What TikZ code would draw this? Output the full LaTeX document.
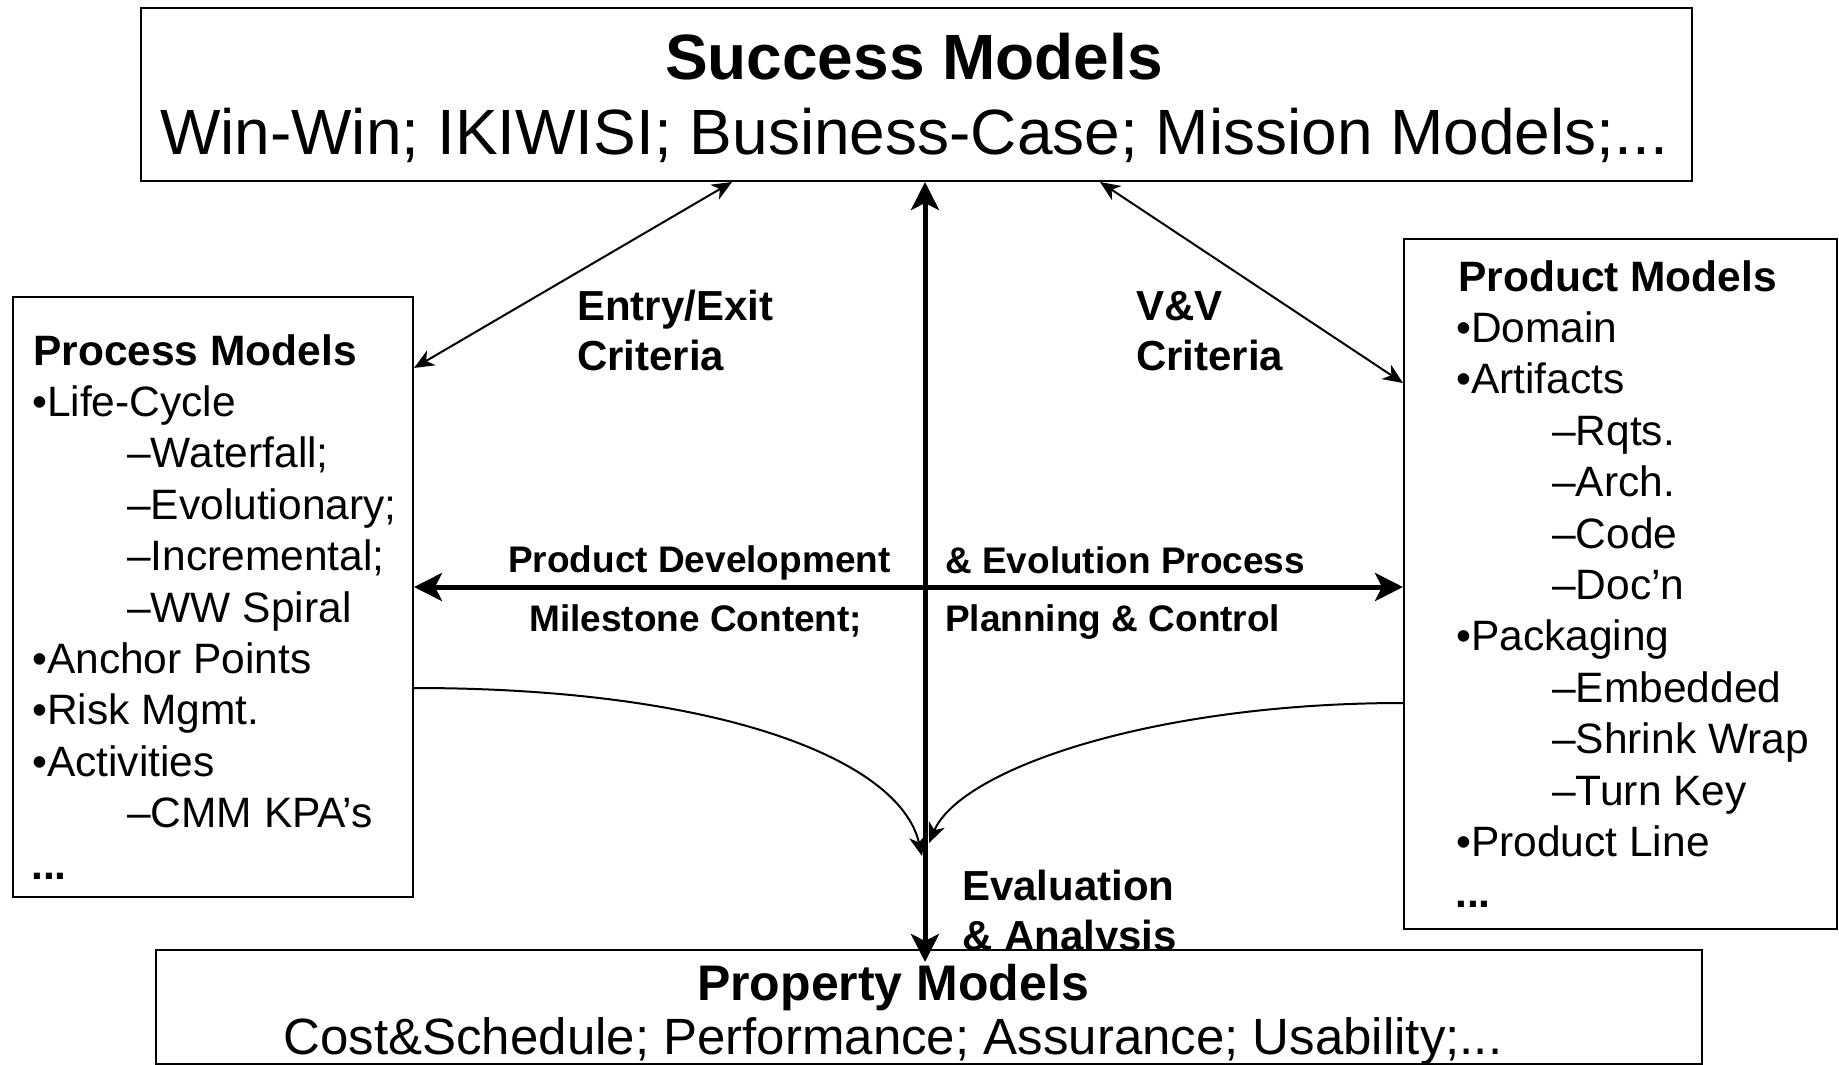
\documentclass[tikz,border=0pt]{standalone}
\usepackage{fontspec}
\setmainfont{Liberation Sans}
\usetikzlibrary{arrows.meta}
\newcommand\setfs[1]{\fontsize{#1}{#1}\selectfont}
\begin{document}
\begin{tikzpicture}[x=1pt,y=-1pt,
  box/.style={draw,line width=2pt,fill=white,inner sep=0pt},
  txt/.style={inner sep=0pt,anchor=base west,font=\setfs{42.5}},
  btxt/.style={inner sep=0pt,anchor=base west,font=\setfs{42.5}\bfseries},
  lbl/.style={inner sep=0pt,anchor=base west,font=\setfs{37}\bfseries},
  thintip/.tip={Stealth[length=20pt,width=17pt,inset=6pt]},
  thicktip/.tip={Stealth[length=28pt,width=28pt,inset=7pt]},
  thinarr/.style={line width=2pt,thintip-thintip},
  curvearr/.style={line width=2pt,-thintip},
  thickarr/.style={line width=5pt,thicktip-thicktip}]
\useasboundingbox (0,0) rectangle (1839,1065);

% Success Models
\node[box,minimum width=1551pt,minimum height=173pt] (success) at (916.5,94.5) {};
\node[inner sep=0pt,anchor=base,font=\setfs{64}\bfseries] (st) at (914,79) {Success Models};
\node[inner sep=0pt,anchor=base,font=\setfs{64}] (ss) at (914,154) {Win-Win; IKIWISI; Business-Case; Mission Models;...};

% Process Models
\node[box,minimum width=400pt,minimum height=600pt] (process) at (213,597) {};
\node[btxt] (p0) at (33,365) {Process Models};
\node[txt] (p1) at (32,416.4) {•Life-Cycle};
\node[txt] (p2) at (127,467.8) {–Waterfall;};
\node[txt] (p3) at (127,519.2) {–Evolutionary;};
\node[txt] (p4) at (127,570.6) {–Incremental;};
\node[txt] (p5) at (127,622) {–WW Spiral};
\node[txt] (p6) at (32,673.4) {•Anchor Points};
\node[txt] (p7) at (32,724.8) {•Risk Mgmt.};
\node[txt] (p8) at (32,776.2) {•Activities};
\node[txt] (p9) at (127,827.6) {–CMM KPA’s};
\node[btxt] (p10) at (31,879) {...};

% Product Models
\node[box,minimum width=433pt,minimum height=690pt] (product) at (1620.5,584) {};
\node[btxt] (q0) at (1458,291) {Product Models};
\node[txt] (q1) at (1456,342.4) {•Domain};
\node[txt] (q2) at (1456,393.8) {•Artifacts};
\node[txt] (q3) at (1552,445.2) {–Rqts.};
\node[txt] (q4) at (1552,496.6) {–Arch.};
\node[txt] (q5) at (1552,548) {–Code};
\node[txt] (q6) at (1552,599.4) {–Doc’n};
\node[txt] (q7) at (1456,650.8) {•Packaging};
\node[txt] (q8) at (1552,702.2) {–Embedded};
\node[txt] (q9) at (1552,753.6) {–Shrink Wrap};
\node[txt] (q10) at (1552,805) {–Turn Key};
\node[txt] (q11) at (1456,856.4) {•Product Line};
\node[btxt] (q12) at (1455,907) {...};

% Labels
\node[btxt,font=\setfs{42}\bfseries] (ee1) at (577,320) {Entry/Exit};
\node[btxt,font=\setfs{42}\bfseries] (ee2) at (577,370) {Criteria};
\node[btxt,font=\setfs{42}\bfseries] (vv1) at (1136,320) {V\&V};
\node[btxt,font=\setfs{42}\bfseries] (vv2) at (1136,370) {Criteria};
\node[lbl] (l1) at (508,572) {Product Development};
\node[lbl] (l2) at (945,573) {\& Evolution Process};
\node[lbl] (l3) at (529,631) {Milestone Content;};
\node[lbl] (l4) at (945,631) {Planning \& Control};
\node[btxt,font=\setfs{42}\bfseries] (ev1) at (962,900) {Evaluation};
\node[btxt,font=\setfs{42}\bfseries] (ev2) at (962,950) {\& Analysis};

% Property Models
\node[box,minimum width=1546pt,minimum height=114pt] (property) at (929,1007) {};
\node[inner sep=0pt,anchor=base,font=\setfs{50}\bfseries] (pt) at (893,1000) {Property Models};
\node[inner sep=0pt,anchor=base,font=\setfs{51}] (ps) at (893,1054) {Cost\&Schedule; Performance; Assurance; Usability;...};

% Connectors
\coordinate (cx) at (925,0);
\coordinate (cy) at (0,587);
\coordinate (vt) at (success.south -| cx);
\coordinate (vb) at (925,962);
\draw[thickarr] (vt) -- (vb);
\draw[thickarr] (process.east |- cy) -- (product.west |- cy);

\coordinate (dl1) at (732,0);
\coordinate (dl2) at (0,368);
\draw[thinarr] (success.south -| dl1) -- (process.east |- dl2);
\coordinate (dr1) at (1100,0);
\coordinate (dr2) at (0,383);
\draw[thinarr] (success.south -| dr1) -- (product.west |- dr2);

\coordinate (lcy) at (0,688);
\coordinate (lend) at (922,856);
\draw[curvearr] (process.east |- lcy) .. controls (720,688) and (900,760) .. (lend);
\coordinate (rcy) at (0,703);
\coordinate (rend) at (929,843);
\draw[curvearr] (product.west |- rcy) .. controls (1150,703) and (960,770) .. (rend);
\end{tikzpicture}
\end{document}
